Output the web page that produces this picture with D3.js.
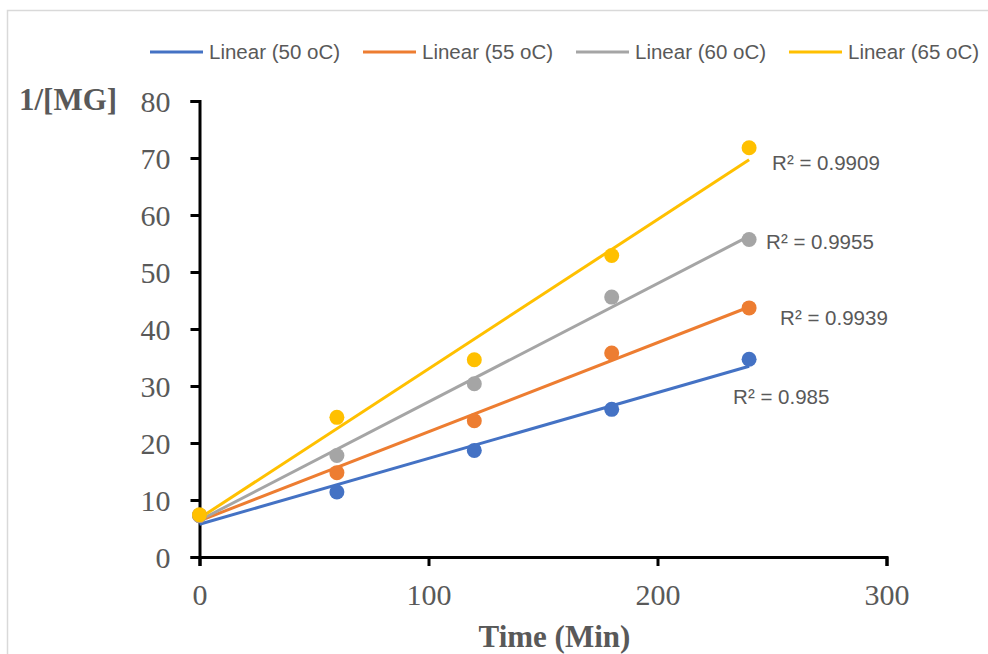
<!DOCTYPE html>
<html>
<head>
<meta charset="utf-8">
<script src="https://cdn.jsdelivr.net/npm/d3@7"></script>
<style>
  body { margin: 0; background: #fff; }
  svg { display: block; }
</style>
</head>
<body>
<div id="chart"></div>
<script>
// time in minutes
const times = [0, 60, 120, 180, 240]
// 1/[MG] at each temperature
const mg50 = [7.3, 11.4, 18.7, 25.9, 34.7]
const mg55 = [7.3, 14.8, 23.9, 35.8, 43.7]
const mg60 = [7.3, 17.8, 30.4, 45.6, 55.7]
const mg65 = [7.4, 24.5, 34.6, 52.9, 71.8]
const seriesNames = ['Linear (50 oC)', 'Linear (55 oC)', 'Linear (60 oC)', 'Linear (65 oC)']
const r2Labels = ['R² = 0.985', 'R² = 0.9939', 'R² = 0.9955', 'R² = 0.9909']
const xTicks = [0, 100, 200, 300]
const yTicks = [0, 10, 20, 30, 40, 50, 60, 70, 80]

const W = 988
const H = 654
const colors = ['#4472C4', '#ED7D31', '#A5A5A5', '#FFC000']
// R² label offset from the last point
const labelOffsets = [[-16, 38], [31, 10], [17, 2], [23, 15]]

const series = [mg50, mg55, mg60, mg65].map((vals, i) => ({
  name: seriesNames[i],
  r2: r2Labels[i],
  color: colors[i],
  off: labelOffsets[i],
  points: times.map((t, j) => ({ t, v: vals[j] }))
}))

// least squares trendline like Excel's linear fit
function fit(points) {
  const mx = d3.mean(points, d => d.t)
  const my = d3.mean(points, d => d.v)
  const sxy = d3.sum(points, d => (d.t - mx) * (d.v - my))
  const sxx = d3.sum(points, d => (d.t - mx) ** 2)
  const b = sxy / sxx
  const a = my - b * mx
  const ts = d3.extent(points, d => d.t)
  return ts.map(t => ({ t, v: a + b * t }))
}

const svg = d3.select('#chart')
  .append('svg')
  .attr('width', W)
  .attr('height', H)

// chart area frame
svg.append('rect')
  .attr('x', 7.5)
  .attr('y', 10.5)
  .attr('width', W)
  .attr('height', H)
  .attr('fill', '#fff')
  .attr('stroke', '#d9d9d9')
  .attr('stroke-width', 1.5)

const x = d3.scaleLinear().domain([0, 300]).range([199.5, 886.5])
const y = d3.scaleLinear().domain([0, 80]).range([557, 101])

const xAxis = svg.append('g')
  .attr('transform', `translate(0,${y(0)})`)
  .call(d3.axisBottom(x).tickValues(xTicks).tickSize(9).tickPadding(18))
const yAxis = svg.append('g')
  .attr('transform', `translate(${x(0)},0)`)
  .call(d3.axisLeft(y).tickValues(yTicks).tickSize(9).tickPadding(20))

;[xAxis, yAxis].forEach(g => {
  g.select('.domain').attr('stroke', '#000').attr('stroke-width', 3)
  g.selectAll('.tick line').attr('stroke', '#000').attr('stroke-width', 3)
  g.selectAll('.tick text')
    .attr('fill', '#595959')
    .style('font-family', '"Liberation Serif", "Times New Roman", serif')
    .style('font-size', '30px')
})
yAxis.selectAll('.tick text').attr('dy', '0.34em')

// axis titles
svg.append('text')
  .attr('x', x(155))
  .attr('y', 647)
  .attr('text-anchor', 'middle')
  .attr('fill', '#595959')
  .style('font-family', '"Liberation Serif", "Times New Roman", serif')
  .style('font-weight', 'bold')
  .style('font-size', '31px')
  .text('Time (Min)')

svg.append('text')
  .attr('x', 19)
  .attr('y', 110)
  .attr('fill', '#595959')
  .style('font-family', '"Liberation Serif", "Times New Roman", serif')
  .style('font-weight', 'bold')
  .style('font-size', '31px')
  .text('1/[MG]')

const line = d3.line()
  .x(d => x(d.t))
  .y(d => y(d.v))

const plot = svg.append('g')

plot.selectAll('path.trend')
  .data(series)
  .join('path')
  .attr('class', 'trend')
  .attr('d', d => line(fit(d.points)))
  .attr('fill', 'none')
  .attr('stroke', d => d.color)
  .attr('stroke-width', 3)

series.forEach(s => {
  plot.append('g')
    .selectAll('circle')
    .data(s.points)
    .join('circle')
    .attr('cx', d => x(d.t))
    .attr('cy', d => y(d.v))
    .attr('r', 7.5)
    .attr('fill', s.color)
})

// R² labels
plot.selectAll('text.r2')
  .data(series)
  .join('text')
  .attr('class', 'r2')
  .attr('x', d => x(d.points[4].t) + d.off[0])
  .attr('y', d => y(d.points[4].v) + d.off[1])
  .attr('dy', '0.35em')
  .attr('fill', '#595959')
  .style('font-family', '"Liberation Sans", Arial, sans-serif')
  .style('font-size', '20.5px')
  .text(d => d.r2)

// legend
const legend = svg.append('g')
  .attr('transform', 'translate(150,52)')
const item = legend.selectAll('g')
  .data(series)
  .join('g')
  .attr('transform', (d, i) => `translate(${i * 213},0)`)
item.append('line')
  .attr('x1', 0)
  .attr('x2', 53)
  .attr('stroke', d => d.color)
  .attr('stroke-width', 3)
item.append('text')
  .attr('x', 59)
  .attr('dy', '0.35em')
  .attr('fill', '#595959')
  .style('font-family', '"Liberation Sans", Arial, sans-serif')
  .style('font-size', '20.5px')
  .text(d => d.name)
</script>
</body>
</html>
